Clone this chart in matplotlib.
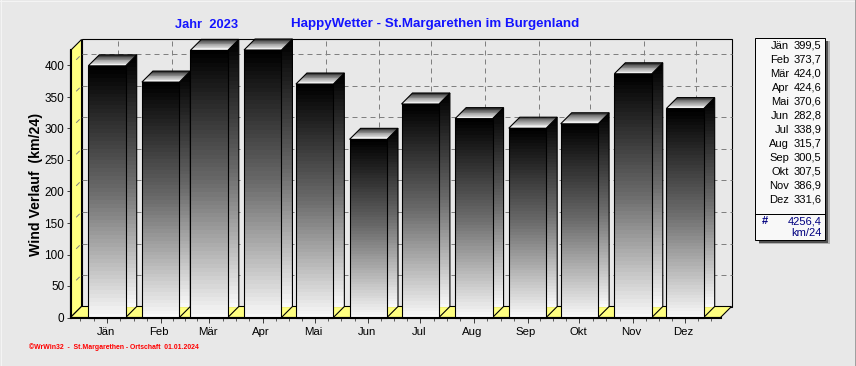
"""Monthly wind totals as a WrWin32 style pseudo 3D bar chart."""

import matplotlib

matplotlib.use("Agg")

import matplotlib.pyplot as plt
import numpy as np
from matplotlib.colors import LinearSegmentedColormap
from matplotlib.patches import Polygon, Rectangle
from matplotlib.transforms import ScaledTranslation

months = ["Jän", "Feb", "Mär", "Apr", "Mai", "Jun", "Jul", "Aug", "Sep", "Okt", "Nov", "Dez"]
month_days = [31, 28, 31, 30, 31, 30, 31, 31, 30, 31, 30, 31]
wind_km = [399.5, 373.7, 424.0, 424.6, 370.6, 282.8, 338.9, 315.7, 300.5, 307.5, 386.9, 331.6]
legend_values = ["399,5", "373,7", "424,0", "424,6", "370,6", "282,8", "338,9", "315,7", "300,5", "307,5", "386,9", "331,6"]
legend_sum = "4256,4"
legend_unit = "km/24"
y_ticks = [0, 50, 100, 150, 200, 250, 300, 350, 400]

WIDTH, HEIGHT = 856, 366
AX_LEFT, AX_RIGHT, AX_TOP, AX_BOTTOM = 70.5, 720.5, 50.5, 317.5
PX_PER_DAY = 1.7305
PX_PER_UNIT = 0.63
DEPTH_PX = 11
BAR_PX = 37.4
BAR_OFFSET_PX = 8
ONE_PX = 0.72

BACKGROUND = "#e8e8e8"
YELLOW = "#ffff80"
GRID = "#808080"
FONT = "Liberation Sans"

plt.rcParams["font.family"] = FONT

bar_ramp = LinearSegmentedColormap.from_list(
    "bar_ramp", ["#000000", "#6c6c6c", "#f8f8f8"], N=64
)
top_ramp = LinearSegmentedColormap.from_list(
    "top_ramp", ["#303030", "#a0a0a0", "#ffffff"], N=14
)
ramp = np.linspace(0, 1, 256).reshape(-1, 1)

fig = plt.figure(figsize=(WIDTH / 100, HEIGHT / 100), dpi=100, facecolor=BACKGROUND)

# pixel canvas for the panel edges and the legend box
canvas = fig.add_axes([0, 0, 1, 1], zorder=3)
canvas.set_xlim(0, WIDTH)
canvas.set_ylim(HEIGHT, 0)
canvas.axis("off")

ax = fig.add_axes(
    [
        AX_LEFT / WIDTH,
        1 - AX_BOTTOM / HEIGHT,
        (AX_RIGHT - AX_LEFT) / WIDTH,
        (AX_BOTTOM - AX_TOP) / HEIGHT,
    ],
    zorder=2,
)
ax.patch.set_alpha(0)

month_starts = np.concatenate([[0], np.cumsum(month_days)[:-1]])
x_min = -(80.3 - AX_LEFT) / PX_PER_DAY
x_max = x_min + (AX_RIGHT - AX_LEFT) / PX_PER_DAY
y_max = (AX_BOTTOM - AX_TOP) / PX_PER_UNIT
depth_x = DEPTH_PX / PX_PER_DAY
depth_y = DEPTH_PX / PX_PER_UNIT
bar_width = BAR_PX / PX_PER_DAY
bar_lefts = month_starts + BAR_OFFSET_PX / PX_PER_DAY
bar_centers = bar_lefts + bar_width / 2


def add_face(points, zorder, facecolor="none", linewidth=1.1 * ONE_PX):
    face = Polygon(
        points,
        closed=True,
        facecolor=facecolor,
        edgecolor="black",
        linewidth=linewidth,
        clip_on=False,
        zorder=zorder,
        joinstyle="miter",
    )
    ax.add_patch(face)
    return face


def add_ramp_face(points, cmap, y_low, y_high, zorder):
    xs = [p[0] for p in points]
    image = ax.imshow(
        ramp,
        cmap=cmap,
        aspect="auto",
        extent=(min(xs), max(xs), y_low, y_high),
        origin="upper",
        interpolation="nearest",
        zorder=zorder,
    )
    clip = Polygon(points, closed=True, transform=ax.transData)
    image.set_clip_box(fig.bbox)
    image.set_clip_path(clip)
    add_face(points, zorder + 0.1)


# back wall, side wall and floor
add_face(
    [
        (x_min + depth_x, depth_y),
        (x_max + depth_x, depth_y),
        (x_max + depth_x, y_max + depth_y),
        (x_min + depth_x, y_max + depth_y),
    ],
    1,
)
add_face(
    [
        (x_min, 0),
        (x_min + depth_x, depth_y),
        (x_min + depth_x, y_max + depth_y),
        (x_min, y_max),
    ],
    1,
    YELLOW,
)
add_face(
    [
        (x_min, 0),
        (x_max, 0),
        (x_max + depth_x, depth_y),
        (x_min + depth_x, depth_y),
    ],
    1,
    YELLOW,
)

# dashed grid on the back wall, short marks on the side wall
dash = (0, (5, 4))
for value in y_ticks[1:]:
    ax.plot(
        [x_min + depth_x, x_max + depth_x],
        [value + depth_y] * 2,
        color=GRID,
        lw=ONE_PX,
        ls=dash,
        clip_on=False,
        zorder=1.2,
    )
    ax.plot(
        [x_min + depth_x * 0.55, x_min + depth_x * 0.8],
        [value + depth_y * 0.55, value + depth_y * 0.8],
        color=GRID,
        lw=ONE_PX,
        clip_on=False,
        zorder=1.2,
    )
for center in bar_centers:
    ax.plot(
        [center + depth_x] * 2,
        [depth_y, y_max + depth_y],
        color=GRID,
        lw=ONE_PX,
        ls=dash,
        clip_on=False,
        zorder=1.2,
    )

for i, (left, value) in enumerate(zip(bar_lefts, wind_km)):
    right = left + bar_width
    z = 2 + i
    add_ramp_face(
        [
            (right, 0),
            (right + depth_x, depth_y),
            (right + depth_x, value + depth_y),
            (right, value),
        ],
        bar_ramp,
        depth_y,
        value + depth_y,
        z,
    )
    add_ramp_face(
        [(left, 0), (right, 0), (right, value), (left, value)],
        bar_ramp,
        0,
        value,
        z + 0.2,
    )
    add_ramp_face(
        [
            (left, value),
            (right, value),
            (right + depth_x, value + depth_y),
            (left + depth_x, value + depth_y),
        ],
        top_ramp,
        value,
        value + depth_y,
        z + 0.4,
    )

ax.set_xlim(x_min, x_max)
ax.set_ylim(0, y_max)

minor_x = []
edges = np.concatenate(
    [
        [bar_centers[0] - (bar_centers[1] - bar_centers[0])],
        bar_centers,
        [bar_centers[-1] + (bar_centers[-1] - bar_centers[-2])],
    ]
)
for a, b in zip(edges[:-1], edges[1:]):
    minor_x.extend(np.linspace(a, b, 5)[1:-1])
minor_x = [x for x in minor_x if x_min < x < x_max and x not in bar_centers]

ax.set_xticks(bar_centers, months)
ax.set_xticks(minor_x, minor=True)
ax.set_yticks(y_ticks)
ax.set_yticks(np.arange(0, y_max, 10), minor=True)
ax.tick_params(axis="x", which="major", length=3.5, width=ONE_PX, color="#404040", labelsize=8.2, pad=3.5)
ax.tick_params(axis="x", which="minor", length=2, width=ONE_PX, color="#606060")
ax.tick_params(axis="y", which="major", length=3, width=ONE_PX, color="#404040", labelsize=8.5, pad=1.5)
ax.tick_params(axis="y", which="minor", length=1, width=ONE_PX, color="black")

# month labels sit a little left of their ticks
label_shift = ScaledTranslation(-1.5 / 100, 0, fig.dpi_scale_trans)
for label in ax.get_xticklabels():
    label.set_transform(label.get_transform() + label_shift)

for side in ("top", "right"):
    ax.spines[side].set_visible(False)
for side in ("left", "bottom"):
    ax.spines[side].set_linewidth(1.5)
    ax.spines[side].set_zorder(30)

# window edges
canvas.plot([0, WIDTH], [0.5, 0.5], color="#f4f4f4", lw=ONE_PX)
canvas.plot([0.5, 0.5], [0, HEIGHT], color="#f4f4f4", lw=ONE_PX)
canvas.plot([0, WIDTH], [365.5, 365.5], color="#a0a0a0", lw=ONE_PX)
canvas.plot([855.5, 855.5], [0, HEIGHT], color="#a0a0a0", lw=ONE_PX)

canvas.text(175, 24.5, "Jahr  2023", color="#1414ff", fontsize=9.3, fontweight="bold", va="center")
canvas.text(
    291,
    24.5,
    "HappyWetter - St.Margarethen im Burgenland",
    color="#1414ff",
    fontsize=9.65,
    fontweight="bold",
    va="center",
)
canvas.text(
    36.5,
    184.5,
    "Wind Verlauf  (km/24)",
    color="black",
    fontsize=10.2,
    fontweight="bold",
    rotation=90,
    ha="center",
    va="center",
)
canvas.text(
    29,
    347.5,
    "©WrWin32  -  St.Margarethen - Ortschaft  01.01.2024",
    color="#ff0000",
    fontsize=4.95,
    fontweight="bold",
    va="center",
)

# legend box with drop shadow
canvas.add_patch(Rectangle((759, 41), 71, 203, facecolor="#b0b0b0", edgecolor="none"))
canvas.add_patch(Rectangle((759, 41), 69.5, 201.5, facecolor="#505050", edgecolor="none"))
canvas.add_patch(Rectangle((755.5, 37.5), 70, 202, facecolor="#f8f8f8", edgecolor="black", lw=ONE_PX))
canvas.plot([755.5, 825.5], [213.5, 213.5], color="black", lw=ONE_PX)
for row, (month, text) in enumerate(zip(months, legend_values)):
    row_y = 46 + row * 14
    canvas.text(789, row_y, month, fontsize=8, ha="right", va="center", color="black")
    canvas.text(821.5, row_y, text, fontsize=8, ha="right", va="center", color="black")
canvas.text(762, 221, "#", fontsize=8, fontweight="bold", ha="left", va="center", color="#000080")
canvas.text(821.5, 221, legend_sum, fontsize=8, ha="right", va="center", color="#000080")
canvas.text(821.5, 233, legend_unit, fontsize=8, ha="right", va="center", color="#000080")

fig.savefig("out.png", dpi=100, facecolor=BACKGROUND)
